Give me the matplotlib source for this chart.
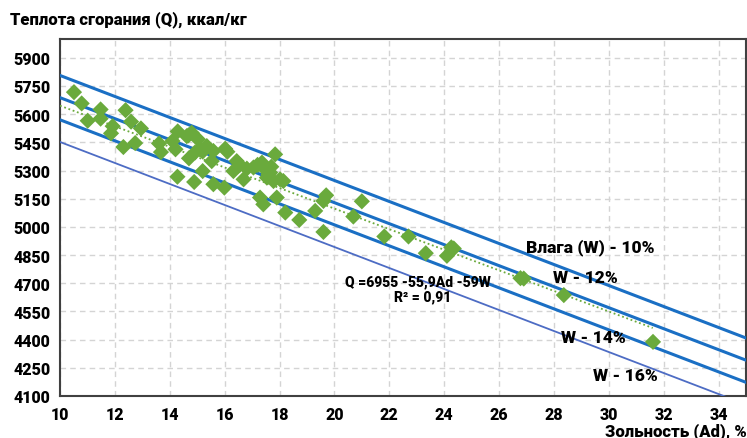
import matplotlib
matplotlib.use("Agg")
import matplotlib.pyplot as plt
import numpy as np

plt.rcParams["font.family"] = ["Roboto", "DejaVu Sans"]
plt.rcParams["font.weight"] = "bold"

# зольность (Ad, %) и теплота сгорания (Q, ккал/кг) по точкам
ash = [10.51, 10.79, 11.01, 11.48, 11.48, 11.92, 11.86, 12.31, 12.39, 12.59,
       12.74, 12.95, 13.61, 13.68, 14.10, 14.21, 14.29, 14.28, 14.62, 14.70,
       14.80, 14.68, 15.10, 15.03, 14.92, 15.20, 15.59, 15.53, 16.02, 15.20,
       14.89, 15.59, 15.99, 16.44, 16.32, 16.69, 16.81, 17.05, 17.36, 17.48,
       17.66, 17.78, 17.84, 17.54, 18.02, 18.14, 17.29, 17.41, 17.90, 18.21,
       19.70, 19.60, 19.30, 18.72, 19.60, 21.00, 20.69, 21.82, 22.70, 23.33,
       24.10, 24.35, 24.26, 26.78, 26.90, 28.36, 31.61, 16.10, 17.20, 17.60,
       17.70, 15.35, 16.55]
heat = [5717, 5657, 5565, 5625, 5576, 5536, 5498, 5425, 5621, 5560,
        5446, 5524, 5444, 5398, 5457, 5413, 5508, 5267, 5483, 5365,
        5501, 5487, 5413, 5466, 5396, 5401, 5404, 5350, 5416, 5297,
        5239, 5227, 5209, 5350, 5297, 5253, 5310, 5316, 5342, 5306,
        5289, 5244, 5386, 5262, 5253, 5244, 5156, 5120, 5156, 5076,
        5168, 5138, 5085, 5037, 4973, 5136, 5055, 4949, 4949, 4860,
        4846, 4885, 4891, 4727, 4725, 4637, 4388, 5400, 5330, 5280,
        5320, 5430, 5330]

# Q = 6955 - 55,9*Ad - 59*W
q0, k_ad, k_w = 6955, 55.9, 59
moisture = [10, 12, 14, 16]
line_labels = ["Влага (W) - 10%", "W - 12%", "W - 14%", "W - 16%"]
label_x = [29.33, 29.15, 29.44, 30.6]
label_y = [4897, 4732, 4413, 4211]

# линия тренда
trend_x = [10, 31.6]
trend_y = [5645, 4462]

fig = plt.figure(figsize=(7.47, 4.39), dpi=100)
ax = fig.add_axes([0.0803, 0.0957, 0.9184, 0.8132])

xs = np.array([10, 35.5])
for w in moisture:
    if w == 16:
        ax.plot(xs, q0 - k_ad * xs - k_w * w, color="#4d6cc4", lw=1.3, zorder=3)
    else:
        ax.plot(xs, q0 - k_ad * xs - k_w * w, color="#1a6fc4", lw=2.2, zorder=3)

ax.plot(trend_x, trend_y, color="#6aaa3c", lw=1.3, ls=(0, (1, 1.5)), zorder=3)
ax.scatter(ash, heat, marker="D", s=68, color="#6aaa3c", edgecolors="none", zorder=4)

for t, x, y in zip(line_labels, label_x, label_y):
    ax.text(x, y, t, ha="center", va="center", fontsize=12.5, fontweight="black")

ax.text(23.06, 4711, "Q =6955 -55,9Ad -59W", ha="center", va="center",
        fontsize=10, fontweight="black")
ax.text(23.2, 4631, "R² = 0,91", ha="center", va="center",
        fontsize=10, fontweight="black")

ax.set_xlim(10, 35)
ax.set_ylim(4100, 6000)
ax.set_xticks(range(10, 35, 2))
ax.set_yticks(range(4100, 5901, 150))
ax.tick_params(length=0, labelsize=11.5, pad=7)
for lab in ax.get_xticklabels() + ax.get_yticklabels():
    lab.set_fontweight("black")
ax.grid(True, color="#d4d4d4", lw=1, ls=(0, (4, 3)))
ax.set_axisbelow(True)
for sp in ax.spines.values():
    sp.set_color("#404040")
    sp.set_linewidth(1.5)

fig.text(0.013, 0.955, "Теплота сгорания (Q), ккал/кг", fontsize=12,
         fontweight="black", va="center")
fig.text(0.999, 0.016, "Зольность (Ad), %", fontsize=12,
         fontweight="black", ha="right", va="center")

fig.savefig("out.png", dpi=100)
